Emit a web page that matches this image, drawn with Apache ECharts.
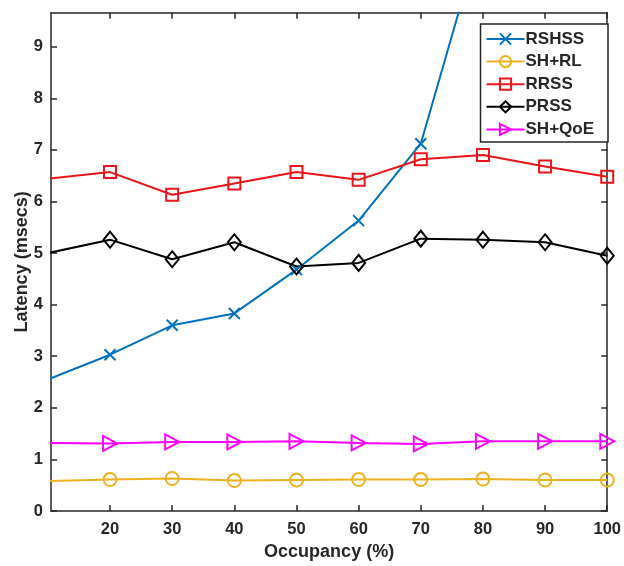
<!DOCTYPE html>
<html>
<head>
<meta charset="utf-8">
<script src="https://cdn.jsdelivr.net/npm/echarts@6/dist/echarts.min.js"></script>
<style>html,body{margin:0;padding:0;background:#fff}#c{width:624px;height:566px}</style>
</head>
<body>
<div id="c"></div>
<script>
const occupancy = [10, 20, 30, 40, 50, 60, 70, 80, 90, 100];
const rshss = [2.55, 3.03, 3.60, 3.83, 4.68, 5.63, 7.12, 11.3];
const shrl  = [0.58, 0.61, 0.63, 0.59, 0.60, 0.61, 0.61, 0.62, 0.60, 0.60];
const rrss  = [6.44, 6.57, 6.13, 6.35, 6.57, 6.42, 6.82, 6.90, 6.68, 6.48];
const prss  = [5.00, 5.26, 4.88, 5.21, 4.74, 4.81, 5.28, 5.26, 5.21, 4.95];
const shqoe = [1.32, 1.31, 1.34, 1.34, 1.35, 1.32, 1.30, 1.35, 1.35, 1.35];
const xTicks = [20, 30, 40, 50, 60, 70, 80, 90, 100];
const yTicks = [0, 1, 2, 3, 4, 5, 6, 7, 8, 9];

const axisColor = '#262626';
const font = '"Liberation Sans", Arial, sans-serif';
function pairs(v){ return v.map((y,i)=>[occupancy[i], y]); }

const SYM = {
  x: 'path://M0,0L10,10M10,0L0,10',
  circle: 'path://M10,5A5,5,0,1,1,0,5A5,5,0,1,1,10,5Z',
  square: 'path://M0,0H10V10H0Z',
  diamond: 'path://M5,0L10,6L5,12L0,6Z',
  tri: 'path://M0,0L10,5.5L0,11Z'
};
function mk(name, data, color, sym, size){
  return {
    name, type: 'line', data: pairs(data), xAxisIndex: 0, yAxisIndex: 0,
    symbol: sym, symbolSize: size, showSymbol: true, clip: true,
    lineStyle: { color, width: 2 },
    itemStyle: { color: 'rgba(0,0,0,0)', borderColor: color, borderWidth: 2 },
    emphasis: { disabled: true }, silent: true
  };
}

const chart = echarts.init(document.getElementById('c'), null, {renderer: 'canvas'});
chart.setOption({
  animation: false,
  backgroundColor: '#fff',
  grid: { left: 51, right: 12.5, top: 12.7, bottom: 54.3, show: false },
  legend: {
    right: 16, top: 24, orient: 'vertical',
    itemWidth: 38, itemHeight: 14, itemGap: 5.6,
    padding: [6.5, 14, 4.2, 5],
    borderColor: axisColor, borderWidth: 1.5, backgroundColor: '#fff',
    textStyle: { fontFamily: font, fontWeight: 'bold', fontSize: 17, lineHeight: 17, color: axisColor, padding: [0,0,0,-4] },
    data: ['RSHSS', 'SH+RL', 'RRSS', 'PRSS', 'SH+QoE']
  },
  xAxis: [{
    type: 'value', min: 10.5, max: 100, position: 'bottom',
    name: 'Occupancy (%)', nameLocation: 'middle', nameGap: 32, nameMoveOverlap: false,
    nameTextStyle: { fontFamily: font, fontWeight: 'bold', fontSize: 18, color: axisColor },
    axisLine: { show: true, onZero: false, lineStyle: { color: axisColor, width: 1.5 } },
    axisTick: { show: true, inside: true, length: 6, customValues: xTicks, lineStyle: { color: axisColor, width: 1.5 } },
    axisLabel: { customValues: xTicks, margin: 10, fontFamily: font, fontWeight: 'bold', fontSize: 16.5, color: axisColor },
    splitLine: { show: false }
  }, {
    type: 'value', min: 10.5, max: 100, position: 'top',
    axisLine: { show: true, onZero: false, lineStyle: { color: axisColor, width: 1.5 } },
    axisTick: { show: true, inside: true, length: 6, customValues: xTicks, lineStyle: { color: axisColor, width: 1.5 } },
    axisLabel: { show: false }, splitLine: { show: false }
  }],
  yAxis: [{
    type: 'value', min: 0, max: 9.66, position: 'left',
    name: 'Latency (msecs)', nameLocation: 'middle', nameGap: 20, nameMoveOverlap: false,
    nameTextStyle: { fontFamily: font, fontWeight: 'bold', fontSize: 18, color: axisColor },
    axisLine: { show: true, onZero: false, lineStyle: { color: axisColor, width: 1.5 } },
    axisTick: { show: true, inside: true, length: 6, customValues: yTicks, lineStyle: { color: axisColor, width: 1.5 } },
    axisLabel: { customValues: yTicks, margin: 8, fontFamily: font, fontWeight: 'bold', fontSize: 16.5, color: axisColor },
    splitLine: { show: false }
  }, {
    type: 'value', min: 0, max: 9.66, position: 'right',
    axisLine: { show: true, onZero: false, lineStyle: { color: axisColor, width: 1.5 } },
    axisTick: { show: true, inside: true, length: 6, customValues: yTicks, lineStyle: { color: axisColor, width: 1.5 } },
    axisLabel: { show: false }, splitLine: { show: false }
  }],
  series: [
    mk('RSHSS', rshss, '#0072BD', SYM.x, 11),
    mk('SH+RL', shrl, '#EDB120', SYM.circle, 13),
    mk('RRSS', rrss, '#E8141A', SYM.square, 12),
    mk('PRSS', prss, '#000000', SYM.diamond, [13, 16]),
    mk('SH+QoE', shqoe, '#FF00FF', SYM.tri, [14, 15])
  ]
});
</script>
</body>
</html>
